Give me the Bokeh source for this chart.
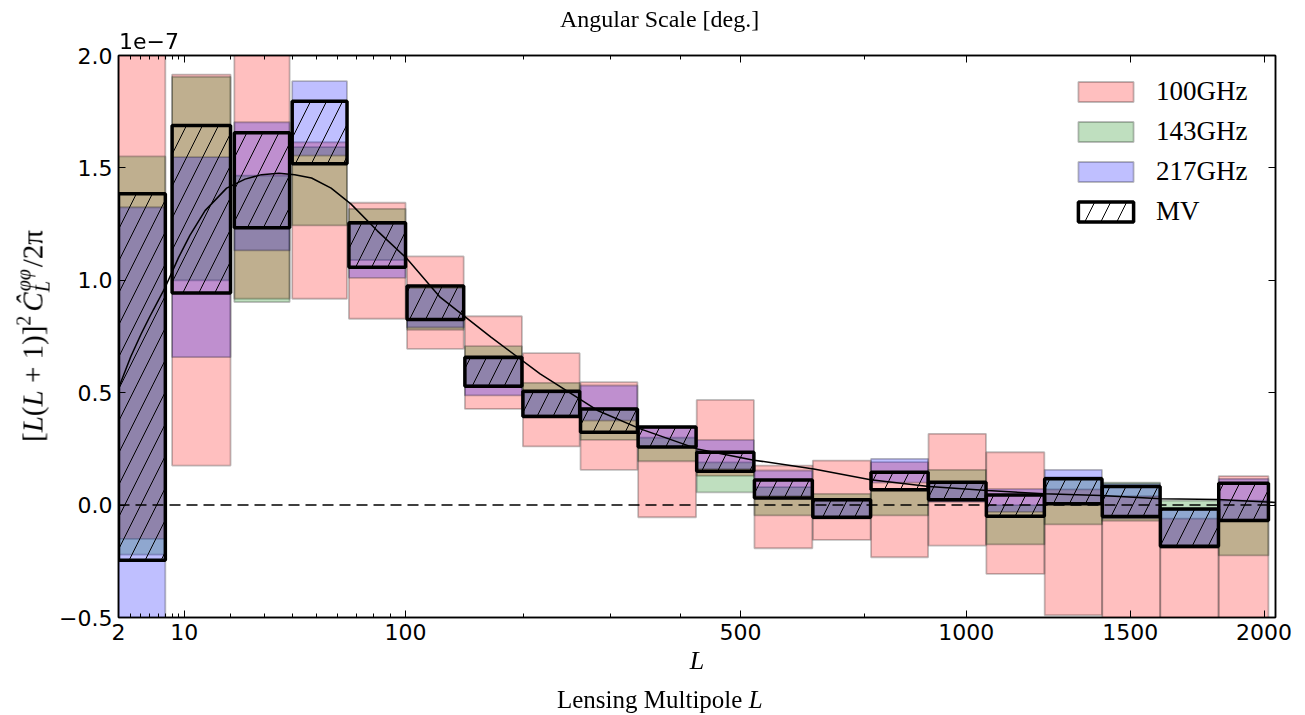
import numpy as np
from bokeh.plotting import figure
from bokeh.models import (Range1d, FixedTicker, CustomJSTickFormatter, LinearAxis,
                          Span, Legend, LegendItem, ColumnDataSource, Div)
from bokeh.layouts import column
from bokeh.embed import file_html
from bokeh.resources import INLINE

# ---------------- data (C_L values in units of 1e-7) ----------------
bin_lo = [2, 8, 21, 40, 66, 101, 145, 199, 263, 338, 426, 525, 638, 764, 902, 1055, 1224, 1406, 1605, 1821]
bin_hi = [7, 20, 39, 65, 100, 144, 198, 262, 337, 425, 524, 637, 763, 901, 1054, 1223, 1405, 1604, 1820, 2018]

f100_lo = [-0.15, 0.176, 0.918, 0.918, 0.829, 0.695, 0.428, 0.261, 0.157, -0.054, 0.13, -0.192, -0.155, -0.232, -0.18, -0.306, -0.49, -0.62, -0.62, -0.62]
f100_hi = [2.3, 1.915, 2.2, 1.614, 1.345, 1.106, 0.840, 0.676, 0.547, 0.345, 0.468, 0.176, 0.198, 0.191, 0.317, 0.235, 0.07, 0.04, -0.06, 0.129]

f143_lo = [-0.22, 1.0, 0.903, 1.244, 1.09, 0.78, 0.535, 0.395, 0.29, 0.195, 0.057, -0.046, -0.06, -0.046, 0.02, -0.175, -0.086, -0.07, -0.19, -0.224]
f143_hi = [1.551, 1.905, 1.466, 1.592, 1.318, 0.975, 0.707, 0.544, 0.43, 0.30, 0.19, 0.08, 0.05, 0.07, 0.157, 0.0, 0.124, 0.10, 0.020, 0.02]

f217_lo = [-0.7, 0.658, 1.133, 1.555, 1.011, 0.79, 0.488, 0.40, 0.376, 0.258, 0.16, 0.04, -0.055, 0.10, 0.015, -0.03, 0.01, -0.06, -0.19, -0.065]
f217_hi = [1.325, 1.548, 1.703, 1.886, 1.25, 0.965, 0.65, 0.50, 0.532, 0.345, 0.29, 0.154, 0.02, 0.206, 0.10, 0.072, 0.157, 0.095, -0.02, 0.117]

mv_lo = [-0.245, 0.944, 1.234, 1.518, 1.058, 0.826, 0.529, 0.394, 0.324, 0.258, 0.151, 0.032, -0.054, 0.068, 0.024, -0.05, 0.006, -0.051, -0.183, -0.069]
mv_hi = [1.385, 1.689, 1.656, 1.797, 1.256, 0.975, 0.658, 0.507, 0.428, 0.347, 0.235, 0.112, 0.024, 0.146, 0.102, 0.045, 0.117, 0.083, -0.017, 0.097]

theory_L = [2, 3, 4, 5, 7, 9, 11, 14, 19, 24, 29, 35, 41, 48, 57, 67, 82, 101, 125, 168, 217, 284, 341, 427,
            524, 640, 763, 903, 1058, 1222, 1402, 1607, 1817, 2047]
theory_val = [0.52, 0.66, 0.76, 0.84, 0.97, 1.10, 1.20, 1.31, 1.41, 1.45, 1.47, 1.476, 1.47, 1.455, 1.41, 1.34,
              1.22, 1.096, 0.925, 0.747, 0.584, 0.421, 0.339, 0.250, 0.20, 0.161, 0.113, 0.083, 0.065, 0.050,
              0.043, 0.028, 0.025, 0.012]

x_major = [2, 10, 100, 500, 1000, 1500, 2000]
x_minor = [3, 4, 5, 6, 7, 8, 9, 20, 30, 40, 50, 60, 70, 80, 90, 200, 300, 400, 750]
y_major = [-0.5, 0.0, 0.5, 1.0, 1.5, 2.0]

series_labels = ["100GHz", "143GHz", "217GHz", "MV"]
series_colors = ["red", "green", "blue"]

# ---------------- x scale: L -> (L+0.5)^0.4 ----------------
P = 0.4


def xs(L):
    return (np.asarray(L, dtype=float) + 0.5) ** P


X0 = float(xs(2)) - 1e-9
X1 = float(xs(2047))

W, H = 1305, 715
p = figure(width=W, height=H, output_backend="svg", toolbar_location=None,
           x_range=Range1d(X0, X1), y_range=Range1d(-0.5, 2.0),
           min_border_left=118, min_border_right=30, min_border_top=55, min_border_bottom=98)
p.grid.visible = False
p.outline_line_color = "black"
p.outline_line_width = 1.5
p.background_fill_color = "white"
p.border_fill_color = "white"

left = xs(bin_lo)
right = xs(bin_hi)

renderers = []
for lo, hi, col in zip([f100_lo, f143_lo, f217_lo], [f100_hi, f143_hi, f217_hi], series_colors):
    src = ColumnDataSource(dict(left=left, right=right, bottom=lo, top=hi))
    r = p.quad(left="left", right="right", bottom="bottom", top="top", source=src,
               fill_color=col, fill_alpha=0.25, line_color="black", line_alpha=0.25, line_width=1.8)
    renderers.append(r)

p.add_layout(Span(location=0, dimension="width", line_color="black", line_width=1.5, line_dash="11 6"))

p.line(xs(theory_L), theory_val, line_color="black", line_width=1.5)

mv_src = ColumnDataSource(dict(left=left, right=right, bottom=mv_lo, top=mv_hi))
r_mv = p.quad(left="left", right="right", bottom="bottom", top="top", source=mv_src,
              fill_color=None, line_color="black", line_width=3.5,
              hatch_pattern="/", hatch_color="black", hatch_scale=32, hatch_weight=1)
renderers.append(r_mv)

# ---------------- axes ----------------
xt = FixedTicker(ticks=[float(v) for v in xs(x_major)], minor_ticks=[float(v) for v in xs(x_minor)])
yt = FixedTicker(ticks=y_major, minor_ticks=[])
xfmt = CustomJSTickFormatter(code="return String(Math.round(Math.pow(tick, 2.5) - 0.5));")
yfmt = CustomJSTickFormatter(code="return (tick < -1e-9 ? '\u2212' : '') + Math.abs(tick).toFixed(1);")
blank = CustomJSTickFormatter(code="return '';")


def style(ax):
    ax.major_tick_in = 7
    ax.major_tick_out = 0
    ax.minor_tick_in = 4
    ax.minor_tick_out = 0
    ax.major_tick_line_width = 1
    ax.minor_tick_line_width = 1
    ax.axis_line_width = 1.5
    ax.major_label_text_font = "DejaVu Sans"
    ax.major_label_text_font_size = "22px"
    ax.major_label_text_color = "black"


p.xaxis.ticker = xt
p.xaxis.formatter = xfmt
p.yaxis.ticker = yt
p.yaxis.formatter = yfmt
style(p.xaxis[0])
style(p.yaxis[0])
p.xaxis.major_label_standoff = 6
p.yaxis.major_label_standoff = 6

top_ax = LinearAxis(ticker=xt, formatter=blank)
right_ax = LinearAxis(ticker=yt, formatter=blank)
style(top_ax)
style(right_ax)
p.add_layout(top_ax, "above")
p.add_layout(right_ax, "right")

# ---------------- legend ----------------
legend = Legend(items=[LegendItem(label=lab, renderers=[r]) for lab, r in zip(series_labels, renderers)],
                location=(953, 390), orientation="vertical",
                glyph_width=69, glyph_height=25, label_height=25, spacing=9,
                label_standoff=16, padding=0, margin=0,
                border_line_alpha=0, background_fill_alpha=0,
                label_text_font="Liberation Serif", label_text_font_size="27px",
                label_text_color="black")
p.add_layout(legend)

# ---------------- texts (HTML overlay, page pixel positions) ----------------
SERIF = "'Liberation Serif', serif"
SANS = "'DejaVu Sans', sans-serif"


def txt(content, left, top, size, family, extra=""):
    return (f'<div style="position:absolute; left:{left}px; top:{top}px; font-family:{family}; '
            f'font-size:{size}px; line-height:1; white-space:nowrap; color:#000; {extra}">{content}</div>')


ylabel = ('[<i>L</i>(<i>L</i> + 1)]'
          '<span style="font-size:20px; line-height:1; position:relative; top:-12px;">2</span>'
          '<span style="display:inline-block; width:4px;"></span>'
          '<i>&#x108;</i>'
          '<span style="display:inline-block; position:relative; width:25px; height:0px;">'
          '<i style="position:absolute; left:1px; top:-29px; font-size:20px; line-height:1;">&phi;&phi;</i>'
          '<i style="position:absolute; left:0px; top:-10px; font-size:20px; line-height:1;">L</i>'
          '</span>'
          '/2&pi;')

html = ('<div style="position:fixed; left:0px; top:0px; width:0px; height:0px; z-index:10; pointer-events:none;">'
        + txt("Angular Scale [deg.]", 560, 7, 24, SERIF)
        + txt("1e&minus;7", 119, 31, 22, SANS)
        + txt("<i>L</i>", 697, 648, 26, SERIF, "transform:translateX(-50%);")
        + txt("Lensing Multipole <i>L</i>", 557, 687, 25, SERIF)
        + (f'<div style="position:absolute; left:33px; top:336px; transform:translate(-50%,-50%) rotate(-90deg); '
           f'font-family:{SERIF}; font-size:29px; line-height:29px; height:29px; white-space:nowrap; '
           f'color:#000;">{ylabel}</div>')
        + '</div>')

overlay = Div(text=html, width=W, height=0,
              styles={"position": "absolute", "left": "0px", "top": "0px", "z-index": "10",
                      "overflow": "visible"})

layout = column(overlay, p, spacing=0)

open("out.html", "w").write(file_html(layout, INLINE))
